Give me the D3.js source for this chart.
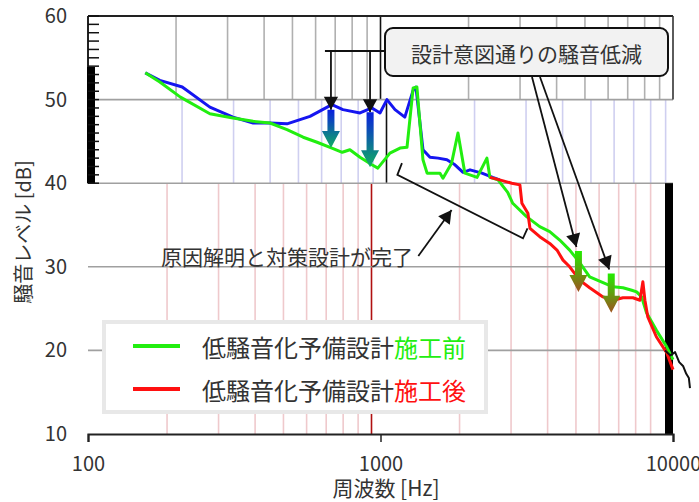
<!DOCTYPE html>
<html><head><meta charset="utf-8">
<script src="https://cdn.jsdelivr.net/npm/d3@7/dist/d3.min.js"></script>
<style>body{margin:0;background:#fff}svg{display:block;font-family:"Noto Sans CJK JP","Noto Sans",sans-serif}</style>
</head><body><svg id="c" width="699" height="502"></svg>
<script>
// ---- data ----
const xTicks = [100, 1000, 10000];
const yTicks = [10, 20, 30, 40, 50, 60];
const minorFreqs = [200,300,400,500,600,700,800,900,2000,3000,4000,5000,6000,7000,8000,9000];
const gridDb = [20, 30, 40, 50];

const blueFreq = [157,176,210,261,313,367,419,479,574,682,744,851,935,996,1052,1121,1211,1293,1322,1397,1476,1574,1687,1797,1915,2023,2222,2419,2555];
const blueDb   = [53.2,52.3,51.5,49.1,47.9,47.2,47.2,47.1,48.0,49.4,48.8,48.4,49.0,48.4,50.0,48.8,47.9,51.1,51.5,44.0,43.1,43.0,42.8,42.2,41.3,41.6,41.2,40.7,40.4];

const greenFreq = [157,176,207,261,313,367,419,479,544,607,682,740,786,851,935,979,1077,1166,1232,1293,1332,1397,1443,1597,1635,1750,1840,1943,2139,2311,2366,2522,2722,2832,3158,3502,3789,4099,4434,4797,5189,5764,6235,6745,7227,7513,7810,8119,8780,9526,10000];
const greenDb   = [53.2,52.1,50.3,48.3,47.8,47.4,47.2,46.4,45.5,44.9,44.2,43.7,44.0,43.1,42.2,41.8,43.6,44.2,44.3,51.4,51.5,42.8,41.2,41.2,40.6,42.4,46.0,41.2,40.7,43.0,40.7,40.4,38.9,37.6,36.0,34.8,34.2,33.2,32.0,30.5,28.8,28.1,27.6,27.5,27.2,27.0,26.4,24.5,22.4,20.4,18.9];

const redFreq = [2366,2555,2812,2996,3044,3191,3244,3502,3789,4012,4207,4434,4797,5189,5764,6235,6745,7296,7710,7889,8017,8201,8780,9526,10000];
const redDb   = [40.7,40.4,40.0,39.8,37.6,36.4,34.6,33.6,32.8,32.0,30.8,30.0,28.4,27.5,26.4,26.0,26.3,26.3,26.0,28.2,26.0,24.0,21.6,19.7,17.7];

const tailFreq = [9389,9800,10164,10500,10840,11100,11330,11430];
const tailDb   = [20.0,19.4,19.8,18.6,18.1,17.2,16.7,15.5];

const legendNames = ["低騒音化予備設計", "低騒音化予備設計"];
const legendTags  = ["施工前", "施工後"];
const calloutText = "設計意図通りの騒音低減";
const causeText   = "原因解明と対策設計が完了";
const xTitle = "周波数 [Hz]";
const yTitle = "騒音レベル [dB]";

// annotation anchors in data units
const arrowsTop  = [{f:677, from:48.8, to:44.2}, {f:921, from:48.5, to:41.9}];
const arrowsHigh = [{f:4750, from:31.9, to:27.0}, {f:6150, from:29.2, to:24.5}];
const bracketF  = [1184, 1142, 3070, 3181];
const bracketDb = [42.4, 41.0, 33.4, 34.6];
const causeArrow = {f0:1347, d0:31.3, f1:1750, d1:36.8};

// ---- scales ----
const svg = d3.select("#c");
const x = d3.scaleLog().domain([100, 10000]).range([88, 673]);
const y = d3.scaleLinear().domain([10, 60]).range([434, 16]);

const defs = svg.append("defs");
function grad(id, c1, c2){
  const g = defs.append("linearGradient").attr("id", id).attr("x1",0).attr("y1",0).attr("x2",0).attr("y2",1);
  g.append("stop").attr("offset","0%").attr("stop-color",c1);
  g.append("stop").attr("offset","100%").attr("stop-color",c2);
}
grad("gBG", "#0a1ee0", "#10b060");
grad("gGB", "#22ee00", "#a0501e");

// ---- vertical grid, in three bands ----
const bands = [
  {top:60, bot:50, dx:0,  color:"#b0b0b0", main:"#111"},
  {top:50, bot:40, dx:6,  color:"#cfcff0", main:"#111"},
  {top:40, bot:10, dx:-9, color:"#efc9cc", main:"#b01010"}
];
bands.forEach(b => {
  svg.append("g").selectAll("line").data(minorFreqs).join("line")
    .attr("x1", d => x(d) + b.dx).attr("x2", d => x(d) + b.dx)
    .attr("y1", y(b.top)).attr("y2", y(b.bot))
    .attr("stroke", b.color).attr("stroke-width", 1.6);
  svg.append("line").attr("x1", x(1000)+b.dx).attr("x2", x(1000)+b.dx)
    .attr("y1", y(b.top)).attr("y2", y(b.bot)).attr("stroke", b.main).attr("stroke-width", 1.6);
});

// horizontal grid
svg.append("g").selectAll("line").data(gridDb).join("line")
  .attr("x1", x(100)).attr("x2", x(10000))
  .attr("y1", d => y(d)).attr("y2", d => y(d))
  .attr("stroke", "#a0a0a0").attr("stroke-width", 1.6);

// frame pieces
svg.append("line").attr("x1", x(100)).attr("x2", x(10000)).attr("y1", y(60)).attr("y2", y(60)).attr("stroke","#222").attr("stroke-width",2);
svg.append("line").attr("x1", x(100)).attr("x2", x(100)).attr("y1", y(60)).attr("y2", y(40)).attr("stroke","#222").attr("stroke-width",2);
svg.append("line").attr("x1", x(10000)).attr("x2", x(10000)).attr("y1", y(60)).attr("y2", y(50)).attr("stroke","#333").attr("stroke-width",1.6);
svg.append("rect").attr("x", x(100)-1).attr("y", y(53.9)).attr("width", 8).attr("height", y(40)-y(53.9)).attr("fill","#000");
svg.append("rect").attr("x", x(10000)-8).attr("y", y(40)).attr("width", 8).attr("height", y(10)-y(40)).attr("fill","#000");

// minor y ticks 40..60
svg.append("g").selectAll("line").data(d3.range(40, 61, 1)).join("line")
  .attr("x1", x(100)).attr("x2", x(100)+11)
  .attr("y1", d => y(d)).attr("y2", d => y(d))
  .attr("stroke", "#111").attr("stroke-width", 1.5);

// axes
const xAxis = svg.append("g").attr("transform", `translate(0,${y(10)})`)
  .call(d3.axisBottom(x).tickValues(xTicks).tickFormat(d3.format("d")).tickSize(8).tickPadding(15));
xAxis.select(".domain").attr("stroke","#222").attr("stroke-width",2.2);
xAxis.selectAll(".tick line").attr("stroke","#222").attr("stroke-width",1.5);
xAxis.selectAll("text").attr("font-size", 20).attr("fill","#333").attr("font-family",'"Noto Sans CJK JP",sans-serif');

const yAxis = svg.append("g").attr("transform", `translate(${x(100)},0)`)
  .call(d3.axisLeft(y).tickValues(yTicks).tickSize(0).tickPadding(21));
yAxis.select(".domain").remove();
yAxis.selectAll("text").attr("font-size", 20).attr("fill","#333").attr("font-family",'"Noto Sans CJK JP",sans-serif');

// titles
svg.append("text").attr("x", 386).attr("y", 496).attr("text-anchor","middle")
  .attr("font-size", 21).attr("fill","#333").text(xTitle);
svg.append("text").attr("transform", "translate(31,232) rotate(-90)").attr("text-anchor","middle")
  .attr("font-size", 20).attr("fill","#333").text(yTitle);

// ---- series ----
const line = d3.line().x(d => x(d[0])).y(d => y(d[1]));
function series(fs, ds, color, w){
  svg.append("path").datum(d3.zip(fs, ds)).attr("d", line)
    .attr("fill","none").attr("stroke", color).attr("stroke-width", w).attr("stroke-linejoin","round");
}
series(blueFreq, blueDb, "#1515f0", 3);
series(greenFreq, greenDb, "#22ee10", 3);
series(redFreq, redDb, "#ff1010", 3);
series(tailFreq, tailDb, "#111", 2);

// ---- annotations ----
function head(px, py, angle, size){
  // triangle pointing in direction angle (radians), tip at (px,py)
  const s = size, w = size*0.55;
  const bx = px - s*Math.cos(angle), by = py - s*Math.sin(angle);
  const nx = -Math.sin(angle)*w, ny = Math.cos(angle)*w;
  svg.append("path").attr("d", `M${px},${py}L${bx+nx},${by+ny}L${bx-nx},${by-ny}Z`).attr("fill","#111");
}
function blackArrow(x0, y0, x1, y1){
  svg.append("line").attr("x1",x0).attr("y1",y0).attr("x2",x1).attr("y2",y1).attr("stroke","#111").attr("stroke-width",1.8);
  head(x1, y1, Math.atan2(y1-y0, x1-x0), 13);
}
function fatArrow(a, gid){
  const cx = x(a.f), y0 = y(a.from), y1 = y(a.to);
  const sw = 3.5, hw = 9, hl = 17;
  svg.append("path").attr("d",
    `M${cx-sw},${y0}L${cx+sw},${y0}L${cx+sw},${y1-hl}L${cx+hw},${y1-hl}L${cx},${y1}L${cx-hw},${y1-hl}L${cx-sw},${y1-hl}Z`)
    .attr("fill", `url(#${gid})`);
}

// callout box
const box = {x:385, y:28, w:283, h:48};
svg.append("rect").attr("x",box.x).attr("y",box.y).attr("width",box.w).attr("height",box.h)
  .attr("rx",8).attr("fill","#f2f2f2").attr("stroke","#111").attr("stroke-width",2);
svg.append("text").attr("x", box.x + box.w/2).attr("y", box.y + box.h/2 + 1).attr("text-anchor","middle")
  .attr("dominant-baseline","central").attr("font-size",21).attr("fill","#333").text(calloutText);

// left bracket from callout
const byLine = 51;
svg.append("line").attr("x1", x(arrowsTop[0].f)-6).attr("x2", box.x).attr("y1", byLine).attr("y2", byLine).attr("stroke","#111").attr("stroke-width",1.8);
arrowsTop.forEach(a => blackArrow(x(a.f), byLine, x(a.f), y(a.from)));
arrowsTop.forEach(a => fatArrow(a, "gBG"));

// right lines from callout
const starts = [[532, 77], [540, 77]];
arrowsHigh.forEach((a, i) => blackArrow(starts[i][0], starts[i][1], x(a.f)-2, y(a.from)-4));
arrowsHigh.forEach(a => fatArrow(a, "gGB"));

// bracket for cause text
svg.append("path").datum(d3.zip(bracketF, bracketDb)).attr("d", line)
  .attr("fill","none").attr("stroke","#111").attr("stroke-width",1.8);
blackArrow(x(causeArrow.f0), y(causeArrow.d0), x(causeArrow.f1), y(causeArrow.d1));
svg.append("text").attr("x", 161).attr("y", 265).attr("font-size", 21).attr("fill","#333").text(causeText);

// ---- legend ----
const lg = svg.append("g");
lg.append("rect").attr("x",104).attr("y",322).attr("width",382).attr("height",90)
  .attr("fill","#fff").attr("stroke","#e8e8e8").attr("stroke-width",4);
const legColors = ["#22ee10", "#ff1010"];
[0,1].forEach(i => {
  const ly = 346 + i*43;
  lg.append("line").attr("x1",133).attr("x2",180).attr("y1",ly).attr("y2",ly).attr("stroke",legColors[i]).attr("stroke-width",4);
  const t = lg.append("text").attr("x",202).attr("y",ly).attr("dominant-baseline","central").attr("font-size",24).attr("fill","#333");
  t.append("tspan").text(legendNames[i]);
  t.append("tspan").attr("fill", legColors[i]).text(legendTags[i]);
});
</script></body></html>
